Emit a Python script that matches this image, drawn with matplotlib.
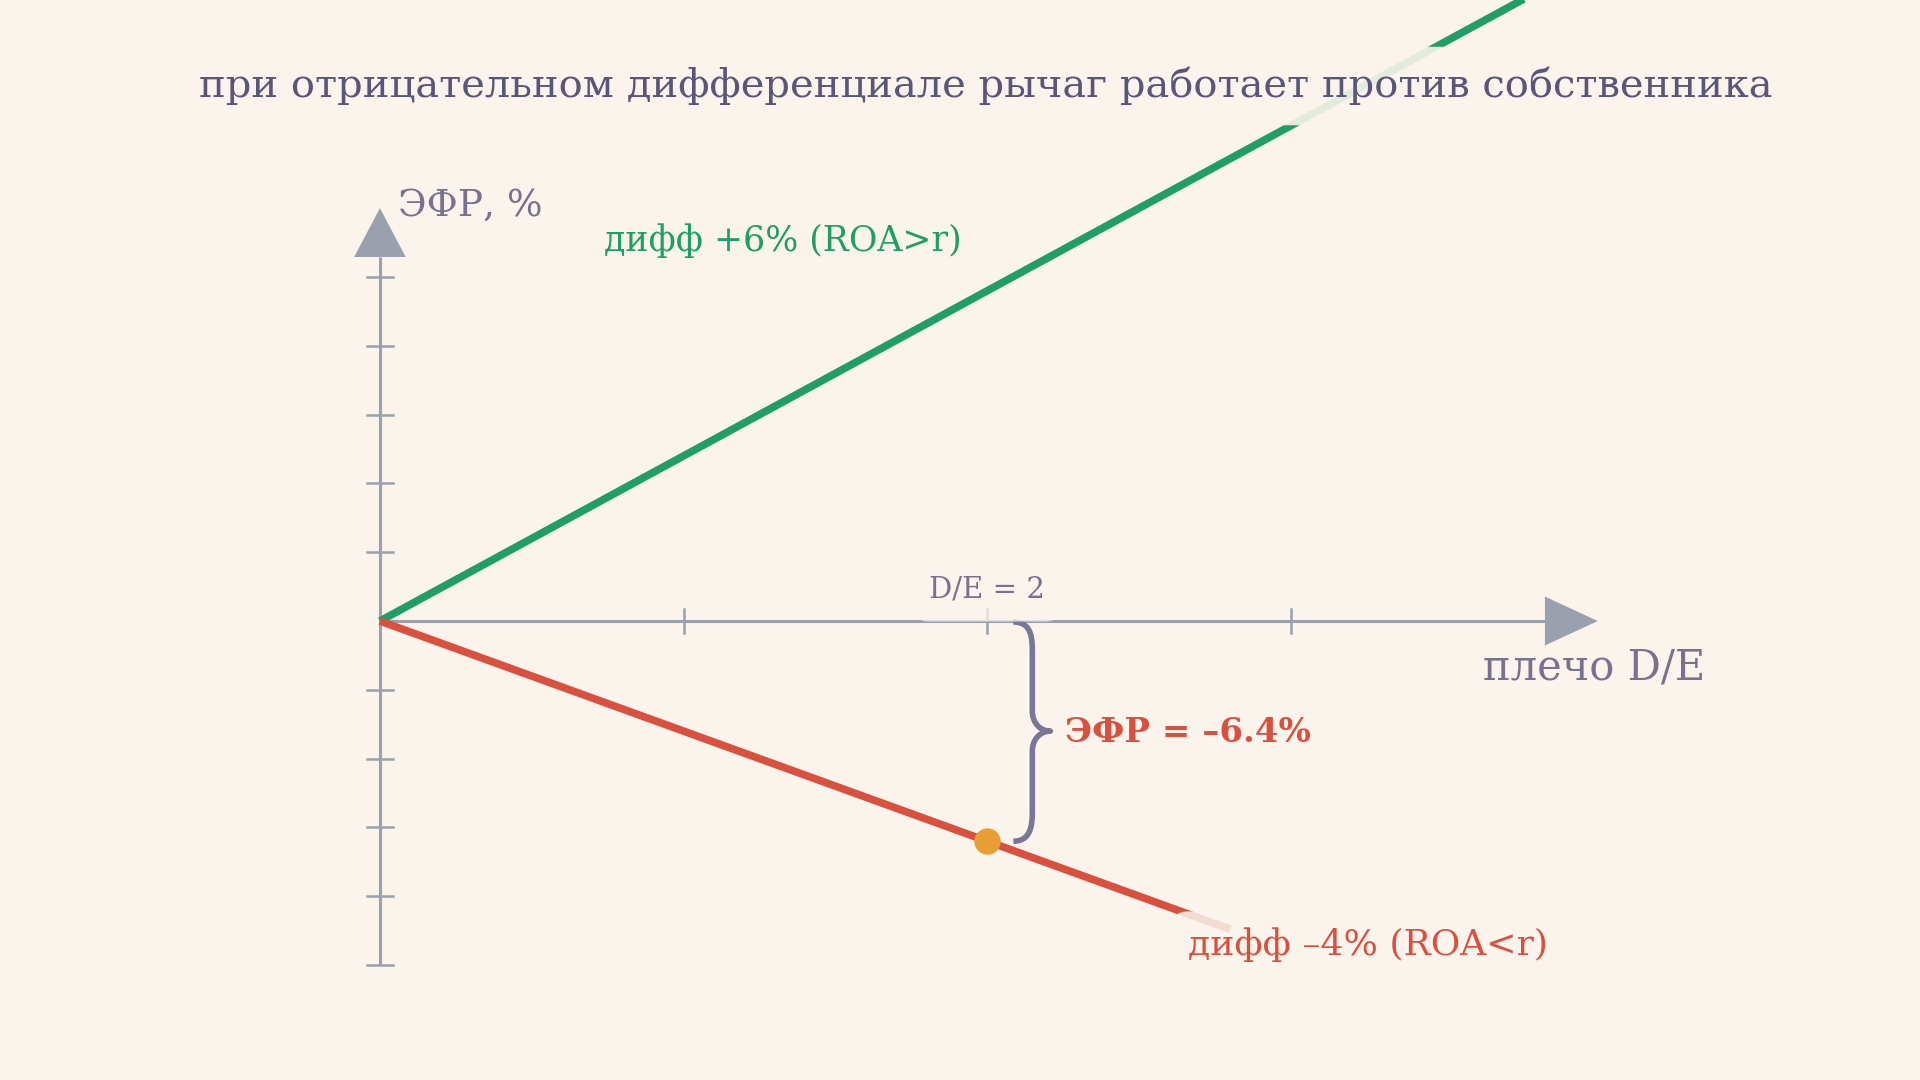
import matplotlib
matplotlib.use("Agg")
import matplotlib.pyplot as plt
from matplotlib.patches import Polygon, PathPatch
from matplotlib.path import Path

# ---- data ----
green_de = [0.0, 1.0, 2.0, 3.0, 4.0]
green_efr = [0.0, 4.8, 9.6, 14.4, 19.2]      # дифф +6%
red_de = [0.0, 1.0, 2.0, 2.8]
red_efr = [0.0, -3.2, -6.4, -8.96]          # дифф -4%
point_de = [2.0]
point_efr = [-6.4]
x_ticks = [1, 2, 3]
y_ticks = [-10, -8, -6, -4, -2, 2, 4, 6, 8, 10]

title = "при отрицательном дифференциале рычаг работает против собственника"
y_label = "ЭФР, %"
x_label = "плечо D/E"
green_label = "дифф +6% (ROA>r)"
red_label = "дифф –4% (ROA<r)"
de_label = "D/E = 2"
efr_label = "ЭФР = –6.4%"

BG = "#FAF4EC"
AX = "#9AA0AD"
GREEN = "#1F9E6A"
RED = "#D9503F"
ORANGE = "#E99E35"
TXT = "#5A557A"
TXT2 = "#78728F"
BRACE = "#7B7597"

FONT = ["DejaVu Serif"]
plt.rcParams["font.family"] = FONT

fig = plt.figure(figsize=(19.2, 10.8), dpi=100, facecolor=BG)
ax = fig.add_axes([0, 0, 1, 1])
ax.set_facecolor(BG)
XL = (-1.251, 5.071)
YL = (-13.34, 18.05)
ax.set_xlim(*XL)
ax.set_ylim(*YL)
ax.axis("off")

# pixel -> data scale helpers
sx = (XL[1] - XL[0]) / 1920.0
sy = (YL[1] - YL[0]) / 1080.0

# axes lines
x_end = 3.836
y_end = 10.58
ax.plot([0, x_end], [0, 0], color=AX, lw=2.2, zorder=2, solid_capstyle="butt")
ax.plot([0, 0], [-10, y_end], color=AX, lw=2.2, zorder=2, solid_capstyle="butt")
# arrow heads
ax.add_patch(Polygon([[x_end, 0.71], [x_end, -0.71], [4.01, 0]], closed=True,
                     color=AX, zorder=2, lw=0))
ax.add_patch(Polygon([[-0.085, y_end], [0.085, y_end], [0, 12.0]], closed=True,
                     color=AX, zorder=2, lw=0))
# ticks
for t in x_ticks:
    ax.plot([t, t], [-0.36, 0.36], color=AX, lw=1.8, zorder=2)
for t in y_ticks:
    ax.plot([-0.043, 0.043], [t, t], color=AX, lw=1.8, zorder=2)

# lines
ax.plot(green_de, green_efr, color=GREEN, lw=5.5, zorder=3, solid_capstyle="butt")
ax.plot(red_de, red_efr, color=RED, lw=5.5, zorder=3, solid_capstyle="butt")
ax.plot(point_de, point_efr, "o", color=ORANGE, ms=19, zorder=5, mec="none")

# brace (offsets in pixels relative to the highlighted point)
px0 = point_de[0]
top = 0.0
bot = point_efr[0]
mid = (top + bot) / 2


def P(dx, y_data, dy=0.0):
    return (px0 + dx * sx, y_data - dy * sy)


verts = [
    P(26, top, 1),
    P(41, top, 1), P(45, top, 11), P(45, top, 29),
    P(45, mid, -20),
    P(45, mid, -8), P(53, mid, 0), P(63, mid, 0),
    P(53, mid, 0), P(45, mid, 8), P(45, mid, 20),
    P(45, bot, -29),
    P(45, bot, -11), P(41, bot, 0), P(26, bot, 0),
]
codes = [Path.MOVETO,
         Path.CURVE4, Path.CURVE4, Path.CURVE4,
         Path.LINETO,
         Path.CURVE4, Path.CURVE4, Path.CURVE4,
         Path.CURVE4, Path.CURVE4, Path.CURVE4,
         Path.LINETO,
         Path.CURVE4, Path.CURVE4, Path.CURVE4]
ax.add_patch(PathPatch(Path(verts, codes), fill=False, ec=BRACE, lw=4.0, zorder=4,
                       capstyle="butt", joinstyle="round"))


def box(alpha=0.85, pad=0.5):
    return dict(boxstyle=f"round,pad={pad}", fc=BG, ec="none", alpha=alpha)


# texts
ax.text(0.5135, 1 - 86 / 1080, title, transform=ax.transAxes, ha="center", va="center",
        fontsize=28.8, color=TXT, zorder=6, bbox=box(0.9, 0.5))
ax.text(398 / 1920, 1 - 206 / 1080, y_label, transform=ax.transAxes, ha="left",
        va="center", fontsize=27, color=TXT2, zorder=6)
ax.text(604 / 1920, 1 - 241 / 1080, green_label, transform=ax.transAxes, ha="left",
        va="center", fontsize=25, color=GREEN, zorder=6, bbox=box(0.85, 0.4))
ax.text(987 / 1920, 1 - 590 / 1080, de_label, transform=ax.transAxes, ha="center",
        va="center", fontsize=21, color=TXT2, zorder=6, bbox=box(0.75, 0.6))
ax.text(1483 / 1920, 1 - 667 / 1080, x_label, transform=ax.transAxes, ha="left",
        va="center", fontsize=30, color=TXT2, zorder=6)
ax.text(1065 / 1920, 1 - 732 / 1080, efr_label, transform=ax.transAxes, ha="left",
        va="center", fontsize=24.5, color=RED, fontweight="bold", zorder=6)
ax.text(1188 / 1920, 1 - 945 / 1080, red_label, transform=ax.transAxes, ha="left",
        va="center", fontsize=26, color=RED, zorder=6, bbox=box(0.85, 0.45))

fig.savefig("out.png", dpi=100, facecolor=BG)
